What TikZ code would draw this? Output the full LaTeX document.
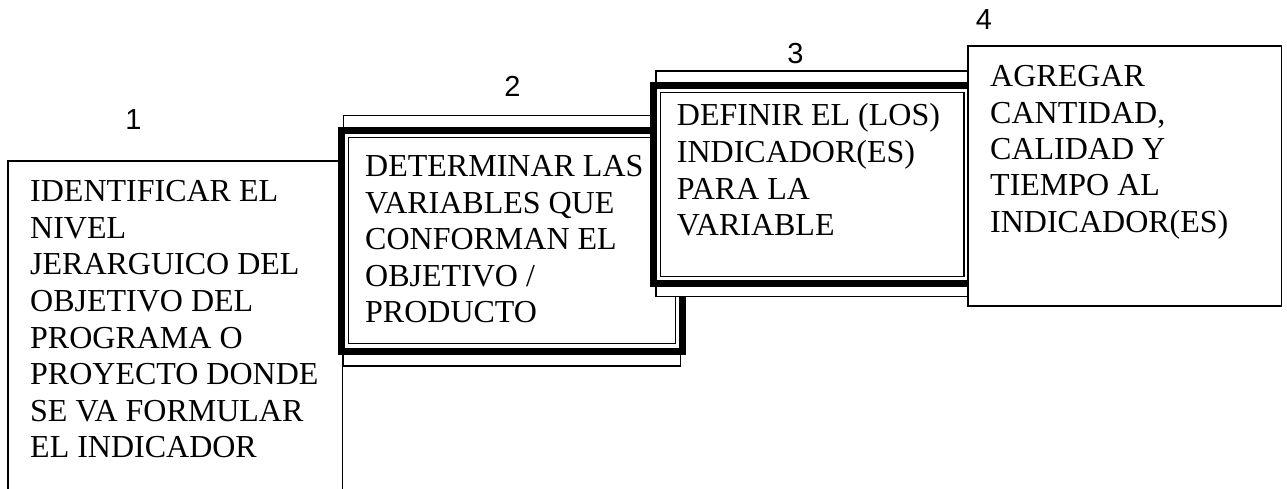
\documentclass[tikz,border=0pt]{standalone}
\usepackage{fontspec}
\setmainfont{Liberation Serif}
\newfontfamily\labelfont{Liberation Sans}
\tikzset{
  thinbox/.style={draw=black, fill=white, line width=1.2pt},
  thickband/.style={draw=black, fill=white, line width=7pt},
  innerline/.style={draw=black, line width=1.4pt},
  boxtext/.style={anchor=base west, inner sep=0pt, font=\fontsize{32}{36.6}\selectfont},
  numlabel/.style={inner sep=0pt, font=\labelfont\fontsize{29}{32}\selectfont}
}
\begin{document}
\begin{tikzpicture}[x=1pt,y=-1pt]
\useasboundingbox (0,0) rectangle (1287,489);
% box 1
\path[thinbox] (8,161) rectangle (342.5,500);
\node[boxtext] (t1) at (30,201.7) {\begin{tabular}[t]{@{}l@{}}IDENTIFICAR EL\\NIVEL\\JERARGUICO DEL\\OBJETIVO DEL\\PROGRAMA O\\PROYECTO DONDE\\SE VA FORMULAR\\EL INDICADOR\end{tabular}};
% box 2
\path[thinbox] (343.5,115.7) rectangle (680.5,366);
\path[thickband] (341,130.2) rectangle (682.5,351.5);
\path[innerline] (348.5,137.7) rectangle (675.7,343.5);
\node[boxtext, font=\fontsize{32}{36.4}\selectfont] (t2) at (365,177) {\begin{tabular}[t]{@{}l@{}}DETERMINAR LAS\\VARIABLES QUE\\CONFORMAN EL\\OBJETIVO /\\PRODUCTO\end{tabular}};
% box 3
\path[thinbox] (656,71) rectangle (975,296.7);
\path[thickband] (653.5,85.2) rectangle (971.5,283.2);
\path[innerline] (660.7,92.7) rectangle (964,276.7);
\node[boxtext] (t3) at (676.7,126) {\begin{tabular}[t]{@{}l@{}}DEFINIR EL (LOS)\\INDICADOR(ES)\\PARA LA\\VARIABLE\end{tabular}};
% box 4
\path[thinbox] (968,46) rectangle (1281.5,306);
\node[boxtext, font=\fontsize{32}{36.3}\selectfont] (t4) at (990,87) {\begin{tabular}[t]{@{}l@{}}AGREGAR\\CANTIDAD,\\CALIDAD Y\\TIEMPO AL\\INDICADOR(ES)\end{tabular}};
% labels
\node[numlabel] (n1) at (133.5,119.5) {1};
\node[numlabel] (n2) at (512.5,86) {2};
\node[numlabel] (n3) at (795.5,53.5) {3};
\node[numlabel] (n4) at (984,19.3) {4};
\end{tikzpicture}
\end{document}
